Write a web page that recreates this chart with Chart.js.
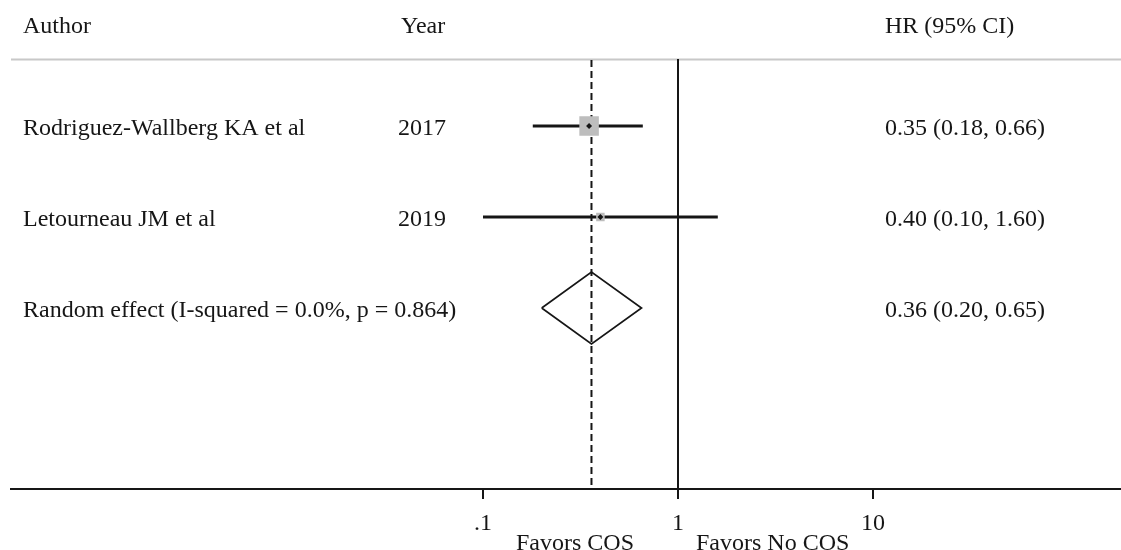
<!DOCTYPE html>
<html>
<head>
<meta charset="utf-8">
<script src="https://cdn.jsdelivr.net/npm/chart.js@4/dist/chart.umd.min.js"></script>
<style>
  html, body { margin: 0; padding: 0; background: #ffffff; overflow: hidden; }
  #wrap { width: 1121px; height: 550px; position: relative; }
</style>
</head>
<body>
<div id="wrap"><canvas id="forest"></canvas></div>
<script>
// Study-level hazard ratios
const authors = ['Rodriguez-Wallberg KA et al', 'Letourneau JM et al'];
const years = ['2017', '2019'];
const hr = [0.35, 0.40];
const lower = [0.18, 0.10];
const upper = [0.66, 1.60];
const boxRadius = [13.8, 6];

// Pooled estimate
const pooledLabel = 'Random effect (I-squared = 0.0%, p = 0.864)';
const pooledHR = 0.36;
const pooledLower = 0.20;
const pooledUpper = 0.65;

// Axis ticks
const tickValues = [0.1, 1, 10];
const tickLabels = ['.1', '1', '10'];

const headers = ['Author', 'Year', 'HR (95% CI)'];
const favorLabels = ['Favors COS', 'Favors No COS'];

const FONT = '24px "Liberation Serif", "Times New Roman", serif';
const INK = '#161616';

// row positions on the (reversed) vertical scale
const rows = authors.map((_, i) => i + 1);
const pooledRow = authors.length + 1;
const Y_MIN = -0.3846, Y_MAX = 4.989;
const Y_TOP = 0.2747;     // top of the reference lines
const Y_HEADER = 0.2637;  // grey rule under the headers

// log axis: 195 px per decade, 1 at x = 678, plot spanning 11..1121
const X_MIN = Math.pow(10, (11 - 678) / 195);
const X_MAX = Math.pow(10, (1121 - 678) / 195);

const fmt = v => v.toFixed(2);

const datasets = [];

// small black centre markers
datasets.push({
  data: hr.map((v, i) => ({ x: v, y: rows[i] })),
  showLine: false,
  pointStyle: 'rectRot',
  pointRadius: 3,
  pointBackgroundColor: INK,
  pointBorderWidth: 0,
  order: 0
});
// weighted grey boxes
datasets.push({
  data: hr.map((v, i) => ({ x: v, y: rows[i] })),
  showLine: false,
  pointStyle: 'rect',
  pointRadius: boxRadius,
  pointBackgroundColor: '#bdbdbd',
  pointBorderWidth: 0,
  order: 1
});
// pooled diamond
datasets.push({
  data: [
    { x: pooledLower, y: pooledRow },
    { x: pooledHR, y: pooledRow - 0.395 },
    { x: pooledUpper, y: pooledRow },
    { x: pooledHR, y: pooledRow + 0.395 },
    { x: pooledLower, y: pooledRow }
  ],
  borderColor: INK,
  borderWidth: 1.7,
  pointRadius: 0,
  fill: false,
  tension: 0,
  order: 2
});
// confidence interval whiskers
hr.forEach((v, i) => {
  datasets.push({
    data: [{ x: lower[i], y: rows[i] }, { x: upper[i], y: rows[i] }],
    borderColor: INK,
    borderWidth: 3,
    pointRadius: 0,
    order: 3
  });
});
// dashed line at the pooled estimate
datasets.push({
  data: [{ x: pooledHR, y: Y_TOP }, { x: pooledHR, y: Y_MAX }],
  borderColor: INK,
  borderWidth: 2,
  borderDash: [7, 4],
  pointRadius: 0,
  order: 4
});
// line of no effect
datasets.push({
  data: [{ x: 1, y: Y_TOP - 0.01 }, { x: 1, y: Y_MAX }],
  borderColor: INK,
  borderWidth: 2,
  pointRadius: 0,
  order: 5
});

// table text, header rule and the favours captions
const tablePlugin = {
  id: 'forestTable',
  beforeDatasetsDraw(chart) {
    const { ctx } = chart;
    const y = chart.scales.y;
    const yh = Math.round(y.getPixelForValue(Y_HEADER)) + 0.5;
    ctx.save();
    ctx.strokeStyle = '#c8c8c8';
    ctx.lineWidth = 2;
    ctx.beginPath();
    ctx.moveTo(11, yh);
    ctx.lineTo(1121, yh);
    ctx.stroke();
    ctx.restore();
  },
  afterDraw(chart) {
    const { ctx } = chart;
    const x = chart.scales.x;
    const y = chart.scales.y;
    ctx.save();
    ctx.font = FONT;
    ctx.fillStyle = INK;
    ctx.textBaseline = 'alphabetic';
    ctx.textAlign = 'left';

    // headers
    ctx.fillText(headers[0], 23, 33);
    ctx.fillText(headers[1], 401, 33);
    ctx.fillText(headers[2], 885, 33);

    // study rows
    authors.forEach((a, i) => {
      const py = y.getPixelForValue(rows[i]) + 9;
      ctx.fillText(a, 23, py);
      ctx.fillText(years[i], 398, py);
      ctx.fillText(`${fmt(hr[i])} (${fmt(lower[i])}, ${fmt(upper[i])})`, 885, py);
    });

    // pooled row
    const pp = y.getPixelForValue(pooledRow) + 8.5;
    ctx.fillText(pooledLabel, 23, pp);
    ctx.fillText(`${fmt(pooledHR)} (${fmt(pooledLower)}, ${fmt(pooledUpper)})`, 885, pp);

    // captions either side of the null line
    const x1 = x.getPixelForValue(1);
    ctx.textAlign = 'right';
    ctx.fillText(favorLabels[0], x1 - 44, 550);
    ctx.textAlign = 'left';
    ctx.fillText(favorLabels[1], x1 + 18, 550);
    ctx.restore();
  }
};

new Chart(document.getElementById('forest'), {
  type: 'line',
  data: { datasets },
  plugins: [tablePlugin],
  options: {
    responsive: true,
    maintainAspectRatio: false,
    animation: false,
    events: [],
    layout: { autoPadding: false, padding: { left: 11, right: 0, top: 0, bottom: 0 } },
    plugins: { legend: { display: false }, tooltip: { enabled: false } },
    elements: { line: { tension: 0 } },
    scales: {
      x: {
        type: 'logarithmic',
        position: 'bottom',
        min: X_MIN,
        max: X_MAX,
        afterBuildTicks: s => { s.ticks = tickValues.map(v => ({ value: v })); },
        afterFit: s => { s.height = 61; },
        border: { display: true, color: INK, width: 2 },
        grid: { display: true, drawOnChartArea: false, drawTicks: true, tickLength: 10, color: INK, lineWidth: 2 },
        ticks: {
          autoSkip: false,
          maxRotation: 0,
          padding: 10,
          color: INK,
          font: { family: '"Liberation Serif", "Times New Roman", serif', size: 24 },
          callback: v => tickLabels[tickValues.indexOf(v)] ?? ''
        }
      },
      y: {
        type: 'linear',
        display: false,
        reverse: true,
        min: Y_MIN,
        max: Y_MAX
      }
    }
  }
});
</script>
</body>
</html>
